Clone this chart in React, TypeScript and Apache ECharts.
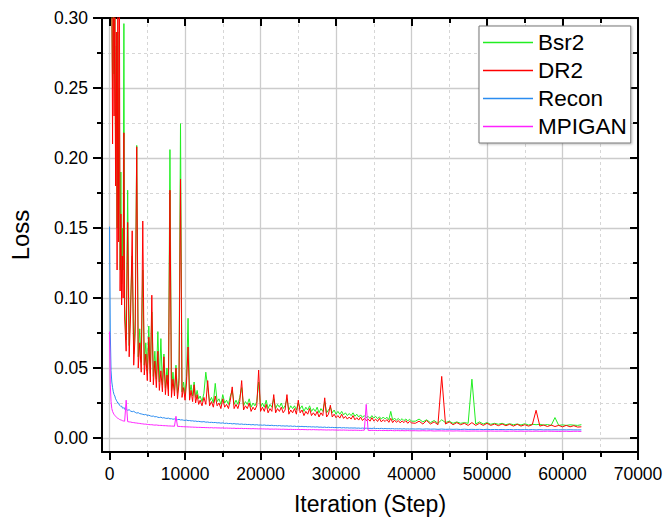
import React, { useEffect, useRef } from "react";
import * as echarts from "echarts";

const iterations = [
  // 0 - 1900 (step 100)
  0, 100, 200, 300, 400, 500, 600, 700, 800, 900,
  1000, 1100, 1200, 1300, 1400, 1500, 1600, 1700, 1800, 1900,
  // 2000 - 11800 (step 200)
  2000, 2200, 2400, 2600, 2800, 3000, 3200, 3400, 3600, 3800,
  4000, 4200, 4400, 4600, 4800, 5000, 5200, 5400, 5600, 5800,
  6000, 6200, 6400, 6600, 6800, 7000, 7200, 7400, 7600, 7800,
  8000, 8200, 8400, 8600, 8800, 9000, 9200, 9400, 9600, 9800,
  10000, 10200, 10400, 10600, 10800, 11000, 11200, 11400, 11600, 11800,
  // 12000 - 40000 (step 250)
  12000, 12250, 12500, 12750, 13000, 13250, 13500, 13750, 14000, 14250,
  14500, 14750, 15000, 15250, 15500, 15750, 16000, 16250, 16500, 16750,
  17000, 17250, 17500, 17750, 18000, 18250, 18500, 18750, 19000, 19250,
  19500, 19750, 20000, 20250, 20500, 20750, 21000, 21250, 21500, 21750,
  22000, 22250, 22500, 22750, 23000, 23250, 23500, 23750, 24000, 24250,
  24500, 24750, 25000, 25250, 25500, 25750, 26000, 26250, 26500, 26750,
  27000, 27250, 27500, 27750, 28000, 28250, 28500, 28750, 29000, 29250,
  29500, 29750, 30000, 30250, 30500, 30750, 31000, 31250, 31500, 31750,
  32000, 32250, 32500, 32750, 33000, 33250, 33500, 33750, 34000, 34250,
  34500, 34750, 35000, 35250, 35500, 35750, 36000, 36250, 36500, 36750,
  37000, 37250, 37500, 37750, 38000, 38250, 38500, 38750, 39000, 39250,
  39500, 39750, 40000,
  // 40500 - 62500 (step 500)
  40500, 41000, 41500, 42000, 42500, 43000, 43500, 44000, 44500, 45000,
  45500, 46000, 46500, 47000, 47500, 48000, 48500, 49000, 49500, 50000,
  50500, 51000, 51500, 52000, 52500, 53000, 53500, 54000, 54500, 55000,
  55500, 56000, 56500, 57000, 57500, 58000, 58500, 59000, 59500, 60000,
  60500, 61000, 61500, 62000, 62500,
];

const bsr2 = [
  0.55, 0.42, 0.36, 0.30, 0.25, 0.31, 0.26, 0.30, 0.20, 0.28,
  0.15, 0.29, 0.16, 0.25, 0.12, 0.19, 0.11, 0.15, 0.12, 0.296,
  0.095, 0.07, 0.177, 0.066, 0.1, 0.13, 0.06, 0.085, 0.209, 0.058,
  0.078, 0.054, 0.12, 0.052, 0.068, 0.048, 0.08, 0.046, 0.09, 0.044,
  0.062, 0.042, 0.076, 0.04, 0.071, 0.038, 0.06, 0.036, 0.05, 0.035,
  0.206, 0.034, 0.047, 0.034, 0.052, 0.032, 0.043, 0.2245, 0.033, 0.04,
  0.031, 0.044, 0.0855, 0.031, 0.038, 0.03, 0.04, 0.029, 0.034, 0.028,
  0.03, 0.026, 0.032, 0.047, 0.036, 0.026, 0.029, 0.025, 0.039, 0.026,
  0.028, 0.024, 0.031, 0.025, 0.027, 0.024, 0.03, 0.034, 0.024, 0.027,
  0.024, 0.029, 0.036, 0.023, 0.026, 0.024, 0.028, 0.022, 0.025, 0.023,
  0.026, 0.04, 0.022, 0.025, 0.022, 0.027, 0.021, 0.024, 0.022, 0.028,
  0.021, 0.024, 0.022, 0.025, 0.021, 0.023, 0.028, 0.02, 0.023, 0.021,
  0.023, 0.02, 0.025, 0.021, 0.023, 0.019, 0.022, 0.02, 0.023, 0.019,
  0.021, 0.019, 0.022, 0.018, 0.021, 0.019, 0.026, 0.018, 0.02, 0.022,
  0.018, 0.02, 0.017, 0.019, 0.017, 0.019, 0.0165, 0.018, 0.016, 0.0175,
  0.016, 0.018, 0.0155, 0.017, 0.015, 0.0165, 0.0148, 0.016, 0.0145, 0.0155,
  0.014, 0.016, 0.0142, 0.0155, 0.0138, 0.0152, 0.0135, 0.015, 0.0136, 0.0148,
  0.013, 0.019, 0.0128, 0.0142, 0.0127, 0.014, 0.0125, 0.0138, 0.0124, 0.0136,
  0.0122, 0.0134, 0.012,
  0.012, 0.0135, 0.0115, 0.013, 0.011, 0.0125, 0.0105, 0.013, 0.011, 0.012,
  0.0105, 0.0115, 0.0105, 0.011, 0.0105, 0.042, 0.010, 0.0115, 0.010, 0.011,
  0.0098, 0.0105, 0.0098, 0.0105, 0.0095, 0.0102, 0.0095, 0.010, 0.0093, 0.0102,
  0.0093, 0.0098, 0.0095, 0.0098, 0.0092, 0.0096, 0.009, 0.0146, 0.009, 0.0094,
  0.009, 0.0094, 0.0092, 0.009, 0.0095,
];

const dr2 = [
  0.60, 0.45, 0.38, 0.32, 0.21, 0.34, 0.23, 0.31, 0.18, 0.29,
  0.12, 0.31, 0.14, 0.33, 0.105, 0.16, 0.095, 0.13, 0.10, 0.218,
  0.085, 0.062, 0.154, 0.058, 0.09, 0.148, 0.052, 0.075, 0.208, 0.05,
  0.068, 0.047, 0.155, 0.045, 0.06, 0.041, 0.072, 0.04, 0.102, 0.038,
  0.055, 0.036, 0.062, 0.034, 0.048, 0.033, 0.058, 0.031, 0.045, 0.03,
  0.177, 0.029, 0.042, 0.03, 0.05, 0.028, 0.039, 0.185, 0.029, 0.036,
  0.027, 0.04, 0.065, 0.027, 0.034, 0.026, 0.038, 0.025, 0.031, 0.024,
  0.027, 0.023, 0.029, 0.024, 0.041, 0.023, 0.026, 0.022, 0.03, 0.023,
  0.025, 0.021, 0.028, 0.022, 0.024, 0.021, 0.027, 0.0365, 0.021, 0.024,
  0.021, 0.026, 0.041, 0.02, 0.023, 0.021, 0.025, 0.019, 0.022, 0.02,
  0.023, 0.0485, 0.019, 0.022, 0.019, 0.024, 0.018, 0.021, 0.019, 0.031,
  0.018, 0.021, 0.019, 0.022, 0.018, 0.02, 0.031, 0.017, 0.02, 0.018,
  0.021, 0.017, 0.027, 0.018, 0.02, 0.016, 0.019, 0.017, 0.021, 0.016,
  0.018, 0.016, 0.019, 0.015, 0.018, 0.016, 0.0287, 0.015, 0.017, 0.0234,
  0.015, 0.017, 0.0145, 0.016, 0.0142, 0.017, 0.014, 0.0155, 0.0135, 0.015,
  0.0135, 0.016, 0.013, 0.0145, 0.0128, 0.015, 0.0125, 0.014, 0.0125, 0.0135,
  0.012, 0.0145, 0.0122, 0.0135, 0.0118, 0.014, 0.0115, 0.013, 0.0118, 0.0132,
  0.0112, 0.014, 0.011, 0.0128, 0.0112, 0.0125, 0.0108, 0.0122, 0.011, 0.0124,
  0.0105, 0.012, 0.0108,
  0.0105, 0.012, 0.010, 0.0125, 0.010, 0.0115, 0.0095, 0.044, 0.010, 0.0115,
  0.0095, 0.011, 0.0095, 0.0105, 0.009, 0.011, 0.009, 0.0105, 0.009, 0.0105,
  0.009, 0.010, 0.0088, 0.010, 0.0088, 0.0098, 0.0085, 0.0098, 0.0085, 0.0095,
  0.0085, 0.0095, 0.0198, 0.0085, 0.0093, 0.0082, 0.0092, 0.0082, 0.009, 0.008,
  0.009, 0.008, 0.0088, 0.0078, 0.008,
];

const recon = [
  0.151, 0.075, 0.048, 0.040, 0.036, 0.033, 0.031, 0.030, 0.028, 0.027,
  0.026, 0.0248, 0.025, 0.0235, 0.0232, 0.0225, 0.0228, 0.0215, 0.0212, 0.0218,
  0.0205, 0.0208, 0.0198, 0.0202, 0.0192, 0.0188, 0.0191, 0.0183, 0.0178, 0.0181,
  0.0174, 0.0172, 0.0169, 0.0166, 0.0168, 0.0161, 0.0163, 0.0158, 0.0155, 0.0157,
  0.0151, 0.0153, 0.0148, 0.0146, 0.0149, 0.0143, 0.0145, 0.0141, 0.014, 0.0142,
  0.0137, 0.0138, 0.0134, 0.0136, 0.0132, 0.0131, 0.0133, 0.0129, 0.013, 0.0127,
  0.0126, 0.0128, 0.0124, 0.0125, 0.0122, 0.0123, 0.012, 0.0121, 0.0118, 0.0119,
  0.0117, 0.0115, 0.0117, 0.0113, 0.0114, 0.0111, 0.0112, 0.011, 0.0111, 0.0108,
  0.0109, 0.0106, 0.0108, 0.0104, 0.0106, 0.0103, 0.0104, 0.0101, 0.0103, 0.01,
  0.0101, 0.0098, 0.01, 0.0097, 0.0098, 0.0096, 0.0097, 0.0094, 0.0096, 0.0093,
  0.0095, 0.0092, 0.0093, 0.0091, 0.0093, 0.009, 0.0091, 0.0089, 0.0091, 0.0088,
  0.0089, 0.0087, 0.0089, 0.0086, 0.0087, 0.0085, 0.0087, 0.0084, 0.0086, 0.0083,
  0.0085, 0.0082, 0.0084, 0.0082, 0.0083, 0.0081, 0.0082, 0.008, 0.0081, 0.0079,
  0.008, 0.0078, 0.008, 0.0077, 0.0078, 0.0076, 0.0078, 0.0075, 0.0077, 0.0075,
  0.0076, 0.0074, 0.0075, 0.0073, 0.0075, 0.0072, 0.0074, 0.0072, 0.0073, 0.0071,
  0.0072, 0.0071, 0.0072, 0.007, 0.0071, 0.0069, 0.0071, 0.0069, 0.007, 0.0068,
  0.0069, 0.0068, 0.007, 0.0067, 0.0068, 0.0067, 0.0069, 0.0066, 0.0068, 0.0066,
  0.0067, 0.0066, 0.0067, 0.0065, 0.0066, 0.0065, 0.0066, 0.0064, 0.0066, 0.0064,
  0.0065, 0.0064, 0.0065,
  0.0064, 0.0065, 0.0063, 0.0065, 0.0063, 0.0064, 0.0062, 0.0064, 0.0062, 0.0063,
  0.0062, 0.0063, 0.0061, 0.0063, 0.0061, 0.0062, 0.0061, 0.0062, 0.006, 0.0062,
  0.006, 0.0061, 0.006, 0.0061, 0.0059, 0.0061, 0.0059, 0.006, 0.0059, 0.006,
  0.0059, 0.006, 0.0058, 0.006, 0.0058, 0.0059, 0.0058, 0.0059, 0.0058, 0.0059,
  0.0058, 0.0059, 0.0058, 0.0058, 0.0058,
];

const mpigan = [
  0.076, 0.038, 0.026, 0.021, 0.019, 0.0178, 0.0168, 0.016, 0.0155, 0.015,
  0.0145, 0.014, 0.0138, 0.0133, 0.0132, 0.0128, 0.0127, 0.0124, 0.0122, 0.0121,
  0.012, 0.027, 0.0117, 0.0115, 0.0114, 0.0111, 0.011, 0.0108, 0.0107, 0.0105,
  0.0104, 0.0102, 0.0101, 0.0099, 0.0099, 0.0097, 0.0096, 0.0095, 0.0095, 0.0093,
  0.0092, 0.0093, 0.0091, 0.009, 0.009, 0.0089, 0.0088, 0.0088, 0.0087, 0.0086,
  0.0086, 0.0085, 0.0085, 0.0084, 0.0155, 0.0083, 0.0083, 0.0082, 0.0081, 0.0081,
  0.008, 0.008, 0.0079, 0.0079, 0.0078, 0.0078, 0.0077, 0.0077, 0.0076, 0.0076,
  0.0076, 0.0075, 0.0075, 0.0074, 0.0074, 0.0073, 0.0074, 0.0072, 0.0073, 0.0072,
  0.0072, 0.0071, 0.0072, 0.007, 0.0071, 0.007, 0.007, 0.0069, 0.007, 0.0068,
  0.0069, 0.0068, 0.0069, 0.0067, 0.0068, 0.0067, 0.0067, 0.0066, 0.0067, 0.0066,
  0.0066, 0.0065, 0.0066, 0.0065, 0.0065, 0.0064, 0.0065, 0.0063, 0.0064, 0.0063,
  0.0064, 0.0063, 0.0063, 0.0062, 0.0063, 0.0062, 0.0062, 0.0061, 0.0062, 0.0061,
  0.0061, 0.0061, 0.0061, 0.006, 0.0061, 0.006, 0.006, 0.0059, 0.006, 0.0059,
  0.006, 0.0059, 0.0059, 0.0058, 0.0059, 0.0058, 0.0058, 0.0057, 0.0058, 0.0057,
  0.0058, 0.0057, 0.0057, 0.0056, 0.0057, 0.0056, 0.0057, 0.0056, 0.0056, 0.0055,
  0.0056, 0.0055, 0.0056, 0.0055, 0.0055, 0.0054, 0.0055, 0.0056, 0.024, 0.0055,
  0.0054, 0.0055, 0.0054, 0.0054, 0.0053, 0.0054, 0.0054, 0.0053, 0.0054, 0.0053,
  0.0053, 0.0054, 0.0053, 0.0052, 0.0053, 0.0053, 0.0052, 0.0053, 0.0052, 0.0052,
  0.0053, 0.0052, 0.0052,
  0.0052, 0.0051, 0.0052, 0.0051, 0.0052, 0.005, 0.0051, 0.0051, 0.005, 0.0051,
  0.005, 0.0051, 0.005, 0.005, 0.0049, 0.005, 0.005, 0.0049, 0.005, 0.0049,
  0.005, 0.0049, 0.0049, 0.005, 0.0048, 0.0049, 0.0049, 0.0048, 0.0049, 0.0048,
  0.0049, 0.0048, 0.0049, 0.0048, 0.0048, 0.0049, 0.0048, 0.0048, 0.0047, 0.0048,
  0.0048, 0.0047, 0.0048, 0.0048, 0.0047,
];

const seriesNames = ["Bsr2", "DR2", "Recon", "MPIGAN"];
const seriesColors = ["#22ee22", "#ff0000", "#2b8cf0", "#ff22ff"];
const xMajorTicks = [0, 10000, 20000, 30000, 40000, 50000, 60000, 70000];
const xMinorTicks = [5000, 15000, 25000, 35000, 45000, 55000, 65000];
const yMajorTicks = [0, 0.05, 0.1, 0.15, 0.2, 0.25, 0.3];
const yMinorTicks = [0.025, 0.075, 0.125, 0.175, 0.225, 0.275];

const FONT = "Liberation Sans, Arial, sans-serif";

export default function App() {
  const ref = useRef<HTMLDivElement>(null);
  useEffect(() => {
    if (!ref.current) return;
    const chart = echarts.init(ref.current, undefined, { renderer: "svg" });
    const values = [bsr2, dr2, recon, mpigan];
    const black = { color: "#000", width: 2 };
    const xBase = { type: "value", min: -1000, max: 70000, gridIndex: 0 };
    const yBase = { type: "value", min: -0.01, max: 0.3, gridIndex: 0 };
    const option: any = {
      animation: false,
      backgroundColor: "#fff",
      textStyle: { fontFamily: FONT },
      grid: {
        left: 102,
        top: 18,
        right: 28,
        bottom: 66,
        containLabel: false,
        outerBoundsMode: "none",
      },
      legend: {
        orient: "vertical",
        left: 479,
        top: 26,
        data: seriesNames,
        icon: "rect",
        itemWidth: 50,
        itemHeight: 1.5,
        itemGap: 5,
        padding: [5, 4, 5, 4],
        backgroundColor: "#fff",
        borderColor: "#777",
        borderWidth: 1,
        shadowColor: "rgba(0,0,0,0.25)",
        shadowBlur: 2,
        shadowOffsetX: 1,
        shadowOffsetY: 1,
        textStyle: { fontSize: 22.5, color: "#000", fontFamily: FONT },
      },
      xAxis: [
        {
          ...xBase,
          position: "bottom",
          name: "Iteration (Step)",
          nameLocation: "middle",
          nameGap: 40,
          nameTextStyle: { fontSize: 23, color: "#000", fontFamily: FONT },
          axisLine: { show: true, onZero: false, lineStyle: black },
          axisTick: { show: true, customValues: xMajorTicks, length: 8, lineStyle: black },
          axisLabel: {
            show: true,
            customValues: xMajorTicks,
            fontSize: 17.5,
            color: "#000",
            margin: 13,
            fontFamily: FONT,
            formatter: (v: number) => String(v),
          },
          splitLine: { show: true, lineStyle: { color: "#cccccc", width: 1.3 } },
        },
        {
          ...xBase,
          position: "bottom",
          axisLine: { show: false, onZero: false },
          axisTick: { show: true, customValues: xMinorTicks, length: 5, lineStyle: black },
          axisLabel: { show: false },
          splitLine: { show: true, lineStyle: { color: "#d6d6d6", width: 1, type: [3, 3] } },
        },
        {
          ...xBase,
          position: "top",
          axisLine: { show: true, onZero: false, lineStyle: black },
          axisTick: { show: true, inside: true, customValues: xMajorTicks, length: 8, lineStyle: black },
          axisLabel: { show: false },
          splitLine: { show: false },
        },
        {
          ...xBase,
          position: "top",
          axisLine: { show: false, onZero: false },
          axisTick: { show: true, inside: true, customValues: xMinorTicks, length: 5, lineStyle: black },
          axisLabel: { show: false },
          splitLine: { show: false },
        },
      ],
      yAxis: [
        {
          ...yBase,
          position: "left",
          name: "Loss",
          nameLocation: "middle",
          nameGap: 70,
          nameRotate: 90,
          nameTextStyle: { fontSize: 24, color: "#000", fontFamily: FONT },
          axisLine: { show: true, onZero: false, lineStyle: black },
          axisTick: { show: true, customValues: yMajorTicks, length: 9, lineStyle: black },
          axisLabel: {
            show: true,
            customValues: yMajorTicks,
            fontSize: 17.5,
            color: "#000",
            margin: 14,
            fontFamily: FONT,
            formatter: (v: number) => v.toFixed(2),
          },
          splitLine: { show: true, lineStyle: { color: "#cccccc", width: 1.3 } },
        },
        {
          ...yBase,
          position: "left",
          axisLine: { show: false, onZero: false },
          axisTick: { show: true, customValues: yMinorTicks, length: 5, lineStyle: black },
          axisLabel: { show: false },
          splitLine: { show: true, lineStyle: { color: "#d6d6d6", width: 1, type: [3, 3] } },
        },
        {
          ...yBase,
          position: "right",
          axisLine: { show: true, onZero: false, lineStyle: black },
          axisTick: { show: true, inside: true, customValues: yMajorTicks, length: 8, lineStyle: black },
          axisLabel: { show: false },
          splitLine: { show: false },
        },
        {
          ...yBase,
          position: "right",
          axisLine: { show: false, onZero: false },
          axisTick: { show: true, inside: true, customValues: yMinorTicks, length: 5, lineStyle: black },
          axisLabel: { show: false },
          splitLine: { show: false },
        },
      ],
      series: seriesNames.map((name, k) => ({
        name,
        type: "line",
        xAxisIndex: 0,
        yAxisIndex: 0,
        symbol: "none",
        showSymbol: false,
        clip: true,
        color: seriesColors[k],
        lineStyle: { color: seriesColors[k], width: 1 },
        data: iterations.map((it, i) => [it, values[k][i]]),
      })),
    };
    chart.setOption(option);
    return () => chart.dispose();
  }, []);
  return (
    <div
      ref={ref}
      style={{ position: "fixed", left: 0, top: 0, width: 666, height: 518, background: "#fff" }}
    />
  );
}
